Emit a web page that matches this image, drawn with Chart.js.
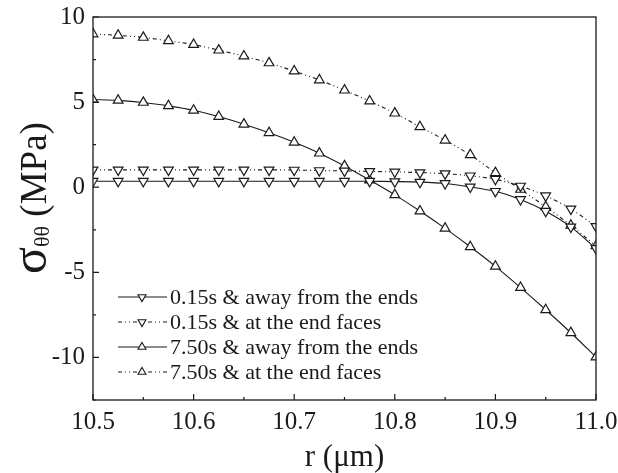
<!DOCTYPE html>
<html>
<head>
<meta charset="utf-8">
<script src="https://cdn.jsdelivr.net/npm/chart.js@4.4.1/dist/chart.umd.min.js"></script>
<style>
  html, body { margin: 0; padding: 0; background: #fff; }
  #wrap { width: 618px; height: 473px; }
</style>
</head>
<body>
<div id="wrap"><canvas id="stressChart"></canvas></div>
<script>
const radius = [10.5, 10.525, 10.55, 10.575, 10.6, 10.625, 10.65, 10.675, 10.7, 10.725, 10.75,
  10.775, 10.8, 10.825, 10.85, 10.875, 10.9, 10.925, 10.95, 10.975, 11.0];

const shortAway = [0.35, 0.35, 0.35, 0.35, 0.35, 0.35, 0.35, 0.35, 0.35, 0.35, 0.35,
  0.35, 0.33, 0.3, 0.22, 0.02, -0.24, -0.72, -1.41, -2.33, -3.6];
const shortEnds = [1.02, 1.02, 1.02, 1.02, 1.02, 1.02, 1.02, 1.02, 1.01, 0.98, 0.96,
  0.93, 0.9, 0.86, 0.8, 0.67, 0.47, 0.07, -0.5, -1.27, -2.3];
const longAway = [5.15, 5.1, 4.98, 4.78, 4.52, 4.15, 3.7, 3.2, 2.64, 2.0, 1.25,
  0.42, -0.45, -1.4, -2.42, -3.5, -4.65, -5.9, -7.2, -8.55, -9.98];
const longEnds = [9.0, 8.92, 8.8, 8.6, 8.38, 8.05, 7.7, 7.3, 6.82, 6.3, 5.7,
  5.06, 4.35, 3.55, 2.76, 1.9, 0.85, -0.13, -1.15, -2.24, -3.45];

const seriesLabels = ['0.15s & away from the ends', '0.15s & at the end faces',
  '7.50s & away from the ends', '7.50s & at the end faces'];

const xTicks = [10.5, 10.6, 10.7, 10.8, 10.9, 11.0];
const yTicks = [-10, -5, 0, 5, 10];

const FONT = "'Liberation Serif', 'DejaVu Serif', serif";
const INK = '#1a1a1a';
const DASHDOT = [4, 3, 1, 3, 1, 3];

function series(label, values, down, dashed) {
  return {
    label,
    data: values.map((v, i) => ({ x: radius[i], y: v })),
    borderColor: INK,
    borderWidth: 1.1,
    borderDash: dashed ? DASHDOT : [],
    tension: 0.25,
    pointStyle: 'triangle',
    pointRotation: down ? 180 : 0,
    pointRadius: 5.6,
    pointBorderWidth: 1.2,
    pointBorderColor: INK,
    pointBackgroundColor: '#fff',
    clip: 0,
  };
}

// frame, inward ticks, legend and axis titles
const decorations = {
  id: 'decorations',
  afterDatasetsDraw(chart) {
    const { ctx, chartArea: a, scales } = chart;
    ctx.save();
    ctx.strokeStyle = INK;
    ctx.lineWidth = 1.3;
    ctx.strokeRect(a.left, a.top, a.right - a.left, a.bottom - a.top);

    ctx.lineWidth = 1.2;
    ctx.beginPath();
    for (let v = 10.5; v <= 11.0001; v += 0.05) {
      const px = scales.x.getPixelForValue(v);
      const major = Math.abs(Math.round(v * 10) - v * 10) < 1e-6;
      ctx.moveTo(px, a.bottom);
      ctx.lineTo(px, a.bottom - (major ? 6 : 3));
    }
    for (let v = -12.5; v <= 10.0001; v += 2.5) {
      const py = scales.y.getPixelForValue(v);
      const major = Math.abs(v % 5) < 1e-6;
      ctx.moveTo(a.left, py);
      ctx.lineTo(a.left + (major ? 6 : 3), py);
    }
    ctx.stroke();

    // legend
    const rowY = [297, 322, 347, 372];
    ctx.textBaseline = 'middle';
    chart.data.datasets.forEach((ds, i) => {
      const y = rowY[i];
      ctx.strokeStyle = INK;
      ctx.lineWidth = 1.1;
      ctx.setLineDash(ds.borderDash);
      ctx.beginPath();
      ctx.moveTo(118, y);
      ctx.lineTo(167, y);
      ctx.stroke();
      ctx.setLineDash([]);
      ctx.fillStyle = '#fff';
      Chart.helpers.drawPoint(ctx, {
        pointStyle: 'triangle', rotation: ds.pointRotation, radius: 4.6, borderWidth: 1.1,
      }, 142, y);
      ctx.fillStyle = INK;
      ctx.font = '22px ' + FONT;
      ctx.fillText(ds.label, 170, y + 1);
    });

    // x title
    ctx.fillStyle = INK;
    ctx.textAlign = 'center';
    ctx.textBaseline = 'alphabetic';
    ctx.font = '31px ' + FONT;
    ctx.fillText('r (\u03bcm)', (a.left + a.right) / 2, 466);

    // y title with subscript
    ctx.translate(46, 198);
    ctx.rotate(-Math.PI / 2);
    const parts = [
      { t: '\u03c3', size: 50, dy: 0 },
      { t: '\u03b8\u03b8', size: 22, dy: 3 },
      { t: ' (MPa)', size: 37, dy: 0 },
    ];
    let total = 0;
    parts.forEach(p => { ctx.font = p.size + 'px ' + FONT; p.w = ctx.measureText(p.t).width; total += p.w; });
    let x = -total / 2;
    ctx.textAlign = 'left';
    parts.forEach(p => {
      ctx.font = p.size + 'px ' + FONT;
      ctx.fillText(p.t, x, p.dy);
      x += p.w;
    });
    ctx.restore();
  },
};

new Chart(document.getElementById('stressChart'), {
  type: 'line',
  data: {
    datasets: [
      series(seriesLabels[0], shortAway, true, false),
      series(seriesLabels[1], shortEnds, true, true),
      series(seriesLabels[2], longAway, false, false),
      series(seriesLabels[3], longEnds, false, true),
    ],
  },
  options: {
    responsive: true,
    maintainAspectRatio: false,
    animation: false,
    layout: { autoPadding: false, padding: { left: 0, right: 22, top: 17, bottom: 0 } },
    plugins: { legend: { display: false }, tooltip: { enabled: false } },
    scales: {
      x: {
        type: 'linear',
        min: 10.5,
        max: 11.0,
        afterFit: (s) => { s.height = 73; s.paddingLeft = 0; s.paddingRight = 0; },
        afterBuildTicks: (s) => { s.ticks = xTicks.map(v => ({ value: v })); },
        grid: { display: false, drawTicks: false },
        border: { display: false },
        ticks: {
          color: INK,
          padding: 7,
          maxRotation: 0,
          font: { family: FONT, size: 25 },
          callback: (v) => Number(v).toFixed(1),
        },
      },
      y: {
        min: -12.5,
        max: 10,
        afterFit: (s) => { s.width = 93; s.paddingTop = 0; s.paddingBottom = 0; },
        afterBuildTicks: (s) => { s.ticks = yTicks.map(v => ({ value: v })); },
        grid: { display: false, drawTicks: false },
        border: { display: false },
        ticks: {
          color: INK,
          padding: 8,
          font: { family: FONT, size: 25 },
        },
      },
    },
  },
  plugins: [decorations],
});
</script>
</body>
</html>
